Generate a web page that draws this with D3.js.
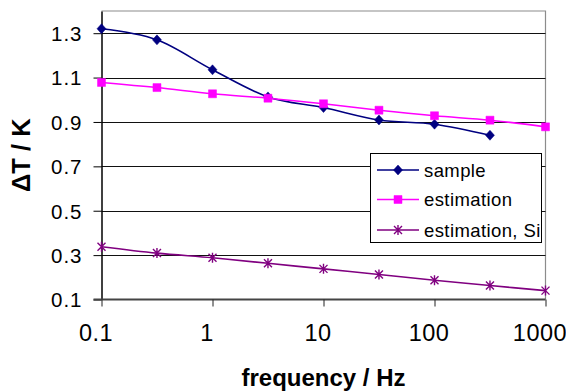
<!DOCTYPE html>
<html>
<head>
<meta charset="utf-8">
<script src="https://cdn.jsdelivr.net/npm/d3@7"></script>
<style>
  html, body { margin: 0; padding: 0; background: #fff; }
  svg { display: block; font-family: "Liberation Sans", Arial, sans-serif; }
</style>
</head>
<body>
<svg id="chart" width="566" height="392"></svg>
<script>
const freqs = [0.1, 0.316, 1, 3.16, 10, 31.6, 100, 316, 1000];
const sampleValues = [1.32, 1.27, 1.135, 1.013, 0.965, 0.909, 0.89, 0.84];
const estimationValues = [1.078, 1.055, 1.027, 1.007, 0.982, 0.953, 0.928, 0.908, 0.878];
const siValues = [0.338, 0.309, 0.288, 0.263, 0.238, 0.213, 0.187, 0.163, 0.14];
const yTicks = [0.1, 0.3, 0.5, 0.7, 0.9, 1.1, 1.3];
const xTicks = [0.1, 1, 10, 100, 1000];
const xTickLabels = ["0.1", "1", "10", "100", "1000"];
const seriesNames = ["sample", "estimation", "estimation, Si"];

const svg = d3.select("#chart");
const L = 101.5, R = 545.5, T = 11, B = 299.5;

const x = d3.scaleLog().domain([0.1, 1000]).range([L, R]);
const y = d3.scaleLinear().domain([0.1, 1.4]).range([B, T]);

// plot border (top/right gray)
svg.append("path")
  .attr("d", `M${L},${T}H${R}V${B}`)
  .attr("fill", "none").attr("stroke", "#8c8c8c").attr("stroke-width", 1.2);

// gridlines
svg.append("g").selectAll("line").data(yTicks.filter(v => v > 0.1)).join("line")
  .attr("x1", L).attr("x2", R)
  .attr("y1", d => Math.round(y(d)) + 0.5).attr("y2", d => Math.round(y(d)) + 0.5)
  .attr("stroke", "#111").attr("stroke-width", 1);

// y axis
const yAxis = d3.axisLeft(y).tickValues(yTicks).tickFormat(d3.format(".1f"))
  .tickSizeInner(8).tickSizeOuter(0).tickPadding(11);
const gy = svg.append("g").attr("transform", `translate(${L},0)`).call(yAxis);
gy.select(".domain").attr("stroke", "#000").attr("stroke-width", 1.5);
gy.selectAll(".tick line").attr("stroke", "#000").attr("stroke-width", 1);
gy.selectAll(".tick text").attr("font-size", 20.5).attr("fill", "#000")
  .attr("letter-spacing", 1)
  .attr("font-family", "'Liberation Sans', Arial, sans-serif").attr("dy", "0.36em");

// x axis
const xAxis = d3.axisBottom(x).tickValues(xTicks).tickFormat((d, i) => xTickLabels[i])
  .tickSizeInner(7).tickSizeOuter(0).tickPadding(18);
const gx = svg.append("g").attr("transform", `translate(0,${B})`).call(xAxis);
gx.select(".domain").attr("stroke", "#444").attr("stroke-width", 2)
  .attr("d", `M${L - 8},0H${R}`);
gx.selectAll(".tick line").attr("stroke", "#222").attr("stroke-width", 1);
gx.selectAll(".tick text").attr("font-size", 23.5).attr("fill", "#000")
  .attr("letter-spacing", 0.5).attr("dx", -6)
  .attr("font-family", "'Liberation Sans', Arial, sans-serif");

// axis titles
svg.append("text").attr("x", (L + R) / 2).attr("y", 386)
  .attr("text-anchor", "middle").attr("font-weight", "bold").attr("font-size", 24)
  .text("frequency / Hz");
svg.append("text").attr("transform", `translate(30,${(T + B) / 2}) rotate(-90)`)
  .attr("text-anchor", "middle").attr("font-weight", "bold").attr("font-size", 25.5)
  .text("ΔT / K");

const line = d3.line().x(d => x(d[0])).y(d => y(d[1])).curve(d3.curveCardinal.tension(0));

const diamond = "M0,-5L4.5,0L0,5L-4.5,0Z";
const square = "M-4,-4H4V4H-4Z";
const star = "M-4,-4L4,4M-4,4L4,-4M0,-5V5";

const series = [
  { name: seriesNames[0], values: sampleValues, color: "#000080", marker: diamond, fill: true },
  { name: seriesNames[1], values: estimationValues, color: "#ff00ff", marker: square, fill: true },
  { name: seriesNames[2], values: siValues, color: "#800080", marker: star, fill: false }
];

series.forEach(s => {
  const pts = s.values.map((v, i) => [freqs[i], v]);
  svg.append("path").attr("d", line(pts)).attr("fill", "none")
    .attr("stroke", s.color).attr("stroke-width", 1.6);
  svg.append("g").selectAll("path").data(pts).join("path")
    .attr("transform", d => `translate(${x(d[0])},${y(d[1])})`)
    .attr("d", s.marker)
    .attr("fill", s.fill ? s.color : "none")
    .attr("stroke", s.color).attr("stroke-width", s.fill ? 0.5 : 1.4);
});

// legend
const lg = svg.append("g");
lg.append("rect").attr("x", 370.5).attr("y", 153.5).attr("width", 171).attr("height", 89)
  .attr("fill", "#fff").attr("stroke", "#000").attr("stroke-width", 1);
const ly = [170, 199.5, 230];
series.forEach((s, i) => {
  lg.append("line").attr("x1", 377).attr("x2", 419).attr("y1", ly[i]).attr("y2", ly[i])
    .attr("stroke", s.color).attr("stroke-width", 1.6);
  lg.append("path").attr("transform", `translate(398,${ly[i]})`).attr("d", s.marker)
    .attr("fill", s.fill ? s.color : "none").attr("stroke", s.color)
    .attr("stroke-width", s.fill ? 0.5 : 1.4);
  lg.append("text").attr("x", 424).attr("y", ly[i]).attr("dy", "0.36em")
    .attr("font-size", 18.5).attr("letter-spacing", 0.4).text(s.name);
});
</script>
</body>
</html>
